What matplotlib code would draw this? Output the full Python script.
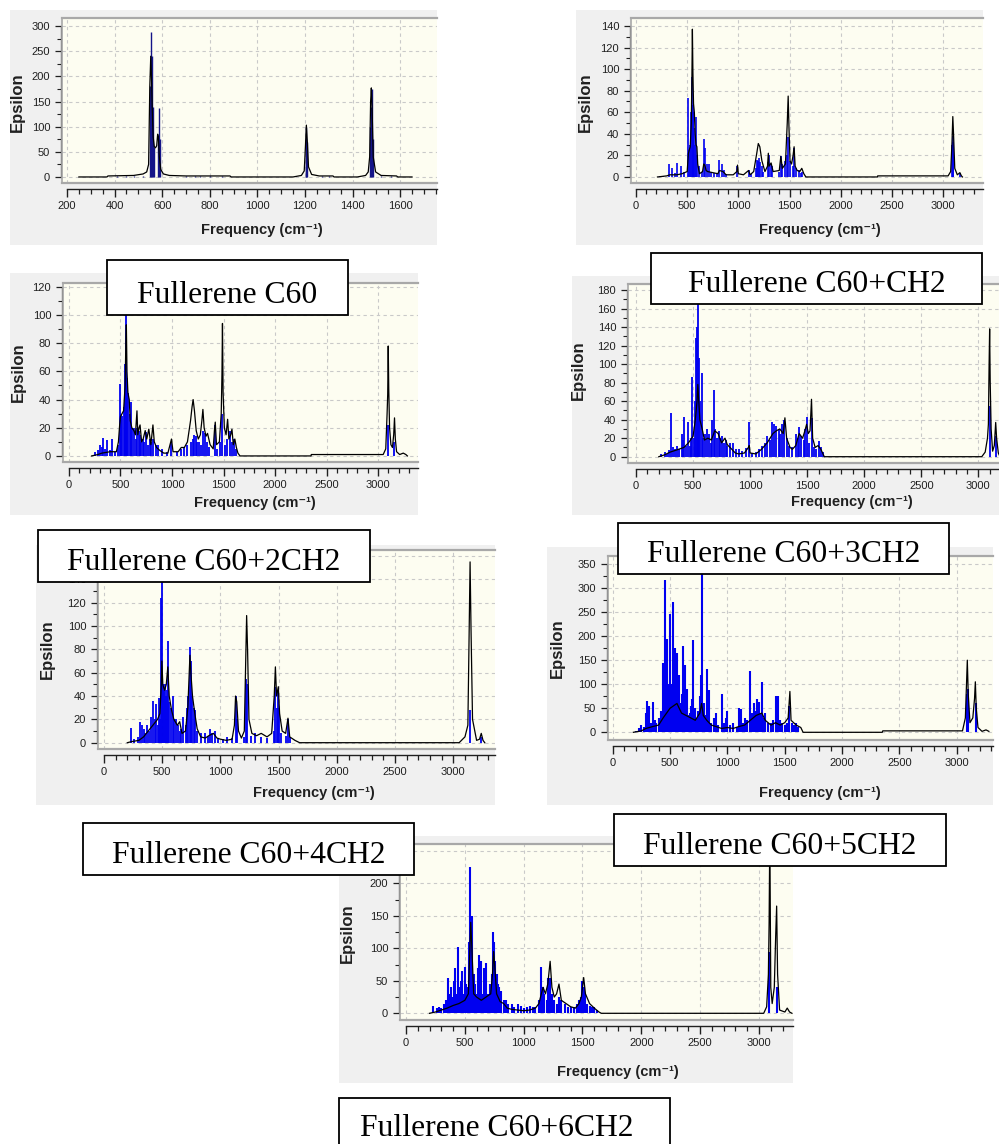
import matplotlib
matplotlib.use("Agg")
import matplotlib.pyplot as plt
from matplotlib.patches import Rectangle
import numpy as np

# ---------------- data ----------------
# Panel A (top-left)
A_STICKS = [(410, 1), (450, 1), (480, 1), (520, 2), (548, 180), (552, 288), (556, 240), (560, 140),
            (565, 60), (583, 80), (586, 138), (590, 75), (700, 1), (740, 1), (760, 1), (800, 1), (850, 1),
            (1203, 75), (1206, 100), (1209, 70), (1270, 1), (1300, 1), (1475, 100), (1478, 140),
            (1481, 175), (1485, 75), (1520, 1), (1560, 1)]
A_ENV = [(250, 0), (368, 0), (372, 2), (480, 3), (520, 6), (535, 10), (543, 25), (548, 180), (552, 240),
         (555, 200), (558, 140), (562, 80), (567, 60), (572, 58), (577, 62), (581, 85), (584, 80),
         (588, 40), (594, 15), (605, 6), (630, 3), (700, 2), (885, 2), (890, 0), (1150, 0), (1185, 3),
         (1197, 12), (1202, 60), (1206, 103), (1210, 70), (1215, 20), (1228, 5), (1260, 2), (1318, 2),
         (1322, 0), (1420, 0), (1455, 3), (1466, 10), (1472, 40), (1476, 150), (1479, 177), (1482, 140),
         (1487, 40), (1497, 10), (1520, 3), (1585, 2), (1590, 0), (1650, 0)]

# Panel B (top-right)
B_STICKS = [(230, 1), (260, 1), (320, 12), (350, 8), (380, 4), (405, 13), (440, 10), (470, 5), (510, 73),
            (522, 25), (532, 30), (540, 60), (548, 93), (553, 60), (560, 67), (568, 45), (578, 30),
            (590, 56), (598, 20), (615, 10), (640, 5), (660, 35), (672, 27), (690, 12), (710, 12),
            (730, 5), (760, 4), (790, 4), (815, 16), (840, 12), (860, 6), (880, 3), (990, 10), (1100, 6),
            (1120, 3), (1170, 8), (1185, 16), (1195, 15), (1205, 18), (1215, 14), (1228, 10), (1240, 5),
            (1290, 14), (1300, 20), (1318, 12), (1330, 10), (1400, 5), (1415, 19), (1425, 12), (1460, 15),
            (1475, 20), (1486, 37), (1500, 15), (1530, 10), (1545, 27), (1560, 8), (1590, 6), (1610, 4),
            (1625, 5), (3088, 30), (3095, 32), (3102, 38), (3170, 4)]
B_ENV = [(210, 0), (300, 1), (330, 2), (400, 2), (450, 3), (500, 5), (512, 22), (520, 25), (530, 28),
         (540, 50), (546, 90), (551, 137), (556, 97), (562, 68), (570, 60), (578, 40), (586, 30),
         (595, 28), (603, 12), (620, 3), (650, 5), (662, 12), (672, 11), (685, 6), (700, 5), (750, 4),
         (800, 3), (815, 6), (850, 5), (880, 2), (950, 2), (985, 5), (992, 11), (1000, 3), (1050, 2),
         (1100, 6), (1115, 2), (1150, 5), (1180, 22), (1195, 31), (1210, 28), (1230, 15), (1260, 5),
         (1285, 10), (1293, 22), (1300, 10), (1320, 13), (1340, 5), (1400, 6), (1415, 19), (1430, 8),
         (1460, 12), (1478, 50), (1487, 75), (1495, 45), (1505, 15), (1520, 12), (1535, 20), (1545, 28),
         (1555, 10), (1575, 6), (1600, 5), (1620, 8), (1640, 3), (1660, 0), (2360, 0), (2362, 1),
         (3050, 1), (3075, 5), (3088, 32), (3096, 56), (3103, 40), (3115, 8), (3140, 2), (3165, 4),
         (3180, 1), (3190, 0)]

# Panel C (second row, left)
C_STICKS = [(250, 3), (280, 4), (300, 8), (320, 6), (330, 13), (350, 5), (370, 11), (400, 4), (420, 12),
            (450, 3), (480, 8), (495, 51), (505, 30), (515, 28), (530, 35), (540, 40), (548, 65),
            (553, 100), (558, 65), (565, 55), (575, 45), (590, 30), (600, 38), (615, 20), (630, 20),
            (650, 12), (660, 20), (675, 18), (690, 15), (700, 10), (715, 12), (730, 10), (750, 17),
            (770, 8), (790, 12), (800, 10), (820, 12), (840, 8), (860, 8), (900, 5), (950, 3), (995, 10),
            (1050, 3), (1090, 5), (1120, 6), (1150, 8), (1180, 10), (1200, 12), (1215, 15), (1230, 14),
            (1245, 10), (1260, 10), (1280, 8), (1300, 18), (1320, 16), (1340, 10), (1360, 6), (1420, 22),
            (1440, 5), (1470, 10), (1490, 30), (1510, 8), (1530, 12), (1560, 18), (1580, 10), (1600, 12),
            (1620, 5), (3098, 22), (3158, 10)]
C_ENV = [(220, 0), (280, 1), (320, 2), (400, 3), (460, 3), (480, 10), (492, 22), (500, 28), (515, 30),
         (530, 32), (545, 50), (552, 80), (557, 93), (563, 60), (572, 45), (585, 40), (595, 25), (610, 20),
         (630, 18), (645, 15), (660, 32), (668, 15), (680, 20), (690, 22), (705, 10), (720, 12), (740, 18),
         (755, 12), (775, 19), (795, 8), (815, 22), (828, 10), (850, 6), (880, 4), (920, 2), (960, 2),
         (995, 12), (1010, 3), (1060, 3), (1090, 6), (1120, 6), (1150, 10), (1180, 25), (1195, 35),
         (1205, 40), (1218, 32), (1235, 18), (1255, 12), (1275, 15), (1290, 25), (1300, 33), (1312, 20),
         (1330, 14), (1345, 16), (1370, 8), (1400, 5), (1412, 18), (1420, 24), (1432, 8), (1460, 10),
         (1478, 30), (1485, 58), (1490, 94), (1496, 45), (1508, 20), (1525, 15), (1540, 26), (1552, 12),
         (1570, 15), (1582, 19), (1595, 8), (1610, 12), (1625, 6), (1640, 2), (1660, 0), (2350, 0),
         (2352, 1), (3050, 1), (3075, 5), (3088, 30), (3094, 44), (3099, 78), (3104, 48), (3112, 20),
         (3125, 8), (3140, 6), (3152, 15), (3160, 27), (3168, 12), (3180, 3), (3210, 1), (3245, 2),
         (3270, 1), (3285, 0)]

# Panel D (second row, right)
D_STICKS = [(220, 3), (250, 5), (270, 3), (290, 7), (310, 47), (325, 10), (340, 8), (360, 12), (380, 8),
            (400, 24), (415, 18), (425, 43), (440, 12), (455, 38), (470, 12), (485, 20), (495, 86),
            (505, 20), (515, 60), (525, 128), (532, 140), (540, 80), (545, 170), (550, 107), (560, 60),
            (575, 90), (590, 20), (605, 25), (620, 30), (640, 25), (655, 15), (670, 40), (680, 72),
            (695, 30), (710, 20), (725, 28), (740, 20), (755, 22), (770, 15), (785, 18), (800, 12),
            (820, 15), (850, 15), (875, 8), (900, 8), (930, 6), (960, 9), (990, 38), (1020, 4), (1050, 5),
            (1080, 8), (1100, 12), (1130, 15), (1150, 22), (1170, 18), (1190, 37), (1210, 35), (1230, 33),
            (1250, 30), (1265, 25), (1280, 35), (1300, 40), (1320, 20), (1340, 12), (1370, 10), (1400, 25),
            (1420, 20), (1430, 32), (1450, 22), (1470, 18), (1480, 30), (1500, 43), (1520, 15), (1540, 42),
            (1560, 10), (1580, 8), (1600, 17), (1620, 10), (1640, 5), (3098, 55), (3152, 22)]
D_ENV = [(200, 0), (250, 2), (300, 5), (350, 7), (420, 10), (460, 15), (500, 22), (520, 40), (535, 60),
         (542, 78), (550, 60), (560, 40), (580, 30), (600, 18), (630, 20), (660, 18), (690, 28), (720, 25),
         (750, 15), (780, 20), (800, 13), (840, 8), (870, 4), (900, 3), (950, 4), (985, 10), (992, 12),
         (1000, 4), (1050, 3), (1100, 8), (1150, 15), (1200, 25), (1230, 28), (1260, 30), (1290, 25),
         (1305, 42), (1320, 20), (1350, 10), (1370, 8), (1400, 12), (1430, 25), (1460, 20), (1480, 28),
         (1495, 35), (1510, 25), (1525, 28), (1538, 62), (1548, 20), (1570, 10), (1595, 12), (1620, 8),
         (1650, 0), (3030, 0), (3060, 5), (3080, 20), (3088, 35), (3094, 97), (3099, 138), (3104, 80),
         (3112, 30), (3125, 6), (3140, 12), (3152, 37), (3160, 20), (3175, 4), (3190, 0)]

# Panel E (third row, left)
E_STICKS = [(230, 13), (260, 3), (290, 5), (310, 18), (325, 15), (340, 12), (355, 8), (370, 15), (385, 10),
            (400, 22), (420, 36), (435, 20), (445, 33), (460, 15), (470, 38), (480, 20), (490, 124),
            (497, 160), (505, 50), (515, 45), (525, 50), (535, 40), (545, 45), (553, 87), (562, 35),
            (575, 30), (590, 40), (605, 20), (620, 20), (635, 15), (650, 10), (665, 12), (680, 22),
            (700, 15), (715, 30), (725, 40), (738, 82), (748, 70), (760, 40), (772, 30), (785, 28),
            (800, 10), (830, 8), (870, 8), (890, 6), (910, 12), (930, 8), (950, 10), (980, 4), (1020, 3),
            (1060, 5), (1100, 4), (1130, 40), (1142, 20), (1200, 5), (1222, 55), (1232, 50), (1260, 6),
            (1300, 8), (1350, 5), (1400, 4), (1460, 10), (1470, 48), (1482, 30), (1492, 45), (1502, 30),
            (1520, 8), (1560, 6), (1580, 20), (1600, 5), (3146, 28), (3240, 5)]
E_ENV = [(200, 0), (240, 1), (300, 2), (340, 5), (380, 10), (420, 15), (460, 20), (480, 25), (492, 50),
         (497, 70), (505, 50), (520, 45), (535, 50), (548, 65), (560, 40), (580, 28), (600, 20), (630, 15),
         (650, 18), (670, 8), (700, 10), (720, 30), (732, 60), (738, 75), (746, 60), (760, 40), (780, 25),
         (800, 12), (830, 5), (870, 4), (900, 6), (940, 8), (970, 4), (1000, 3), (1050, 2), (1100, 3),
         (1120, 15), (1130, 40), (1140, 35), (1155, 10), (1180, 4), (1205, 10), (1215, 60), (1225, 109),
         (1233, 80), (1245, 20), (1270, 8), (1310, 6), (1350, 8), (1400, 5), (1440, 8), (1462, 40),
         (1472, 65), (1482, 40), (1497, 48), (1508, 25), (1530, 10), (1560, 8), (1580, 21), (1595, 5),
         (1640, 2), (1680, 0), (3050, 0), (3100, 5), (3125, 15), (3136, 95), (3144, 155), (3152, 98),
         (3165, 20), (3200, 2), (3225, 3), (3240, 8), (3255, 2), (3270, 0)]

# Panel F (third row, right)
F_STICKS = [(200, 3), (230, 8), (250, 15), (270, 10), (290, 40), (300, 65), (310, 30), (320, 55), (335, 20),
            (350, 62), (365, 25), (380, 20), (400, 30), (420, 45), (430, 20), (440, 145), (450, 60),
            (460, 316), (470, 195), (480, 90), (490, 100), (500, 245), (510, 80), (520, 100), (530, 270),
            (540, 120), (545, 175), (555, 90), (560, 165), (570, 110), (580, 120), (590, 60), (600, 80),
            (610, 180), (620, 60), (630, 140), (640, 45), (650, 90), (660, 35), (670, 40), (680, 55),
            (690, 70), (700, 192), (710, 40), (720, 50), (730, 30), (740, 45), (750, 35), (760, 75),
            (770, 120), (780, 345), (790, 40), (800, 60), (810, 35), (820, 132), (830, 40), (840, 88),
            (860, 20), (880, 30), (900, 40), (920, 15), (950, 80), (970, 20), (990, 30), (1000, 45),
            (1020, 15), (1050, 20), (1080, 12), (1100, 50), (1120, 48), (1140, 20), (1150, 30), (1170, 25),
            (1200, 128), (1215, 40), (1230, 60), (1245, 45), (1260, 70), (1280, 62), (1290, 40), (1300, 105),
            (1315, 30), (1330, 40), (1350, 20), (1380, 20), (1400, 25), (1420, 75), (1440, 75), (1460, 25),
            (1480, 20), (1500, 15), (1520, 20), (1540, 55), (1560, 20), (1580, 15), (1600, 20), (1620, 10),
            (3088, 80), (3098, 90), (3165, 60)]
F_ENV = [(180, 0), (250, 3), (290, 8), (320, 10), (350, 12), (400, 15), (440, 30), (470, 40), (500, 50),
         (530, 55), (560, 60), (600, 40), (640, 35), (680, 30), (720, 25), (760, 40), (775, 60), (790, 35),
         (820, 25), (860, 15), (900, 12), (950, 8), (1000, 10), (1050, 8), (1100, 12), (1150, 15),
         (1200, 25), (1250, 35), (1300, 40), (1330, 25), (1380, 15), (1420, 20), (1460, 15), (1500, 20),
         (1530, 30), (1545, 85), (1555, 25), (1600, 15), (1640, 10), (1660, 0), (2350, 0), (2355, 3),
         (3050, 3), (3075, 30), (3085, 100), (3092, 150), (3100, 80), (3115, 20), (3140, 30), (3155, 70),
         (3162, 105), (3170, 50), (3185, 10), (3220, 2), (3255, 5), (3280, 2)]

# Panel G (bottom)
G_STICKS = [(230, 12), (260, 8), (280, 10), (300, 8), (320, 15), (340, 20), (360, 55), (370, 30), (380, 40),
            (400, 25), (410, 50), (420, 70), (430, 30), (440, 102), (450, 40), (460, 35), (470, 50),
            (480, 65), (490, 30), (500, 72), (510, 45), (520, 40), (535, 110), (545, 225), (550, 140),
            (555, 148), (565, 150), (575, 60), (585, 45), (600, 30), (610, 70), (620, 90), (630, 40),
            (640, 80), (650, 30), (660, 70), (670, 40), (680, 78), (690, 30), (700, 30), (710, 45),
            (720, 40), (730, 60), (742, 125), (750, 110), (760, 80), (770, 60), (780, 45), (790, 40),
            (810, 35), (830, 20), (850, 20), (870, 15), (900, 15), (920, 10), (950, 15), (980, 12),
            (1000, 8), (1030, 10), (1050, 12), (1080, 10), (1100, 10), (1130, 20), (1150, 72), (1165, 40),
            (1175, 30), (1200, 20), (1210, 55), (1225, 55), (1240, 30), (1260, 20), (1280, 15), (1300, 25),
            (1320, 20), (1350, 15), (1380, 10), (1400, 10), (1430, 10), (1450, 15), (1470, 20), (1490, 25),
            (1500, 50), (1510, 40), (1520, 30), (1540, 15), (1560, 12), (1580, 10), (1600, 10), (1620, 5),
            (3088, 95), (3150, 40)]
G_ENV = [(200, 0), (250, 2), (300, 5), (350, 8), (400, 12), (450, 15), (500, 20), (530, 30), (542, 95),
         (550, 140), (560, 100), (575, 30), (600, 25), (640, 20), (680, 25), (720, 30), (735, 60), (745, 95),
         (755, 70), (770, 30), (800, 18), (830, 15), (860, 8), (900, 6), (950, 5), (1000, 4), (1050, 5),
         (1100, 8), (1130, 15), (1150, 30), (1165, 40), (1185, 30), (1205, 45), (1225, 80), (1240, 40),
         (1260, 25), (1280, 30), (1300, 45), (1320, 20), (1360, 15), (1400, 10), (1440, 8), (1470, 15),
         (1490, 25), (1510, 55), (1525, 30), (1560, 15), (1600, 8), (1640, 2), (1660, 0), (3040, 0),
         (3065, 10), (3080, 60), (3086, 140), (3092, 280), (3100, 40), (3112, 15), (3130, 40), (3142, 120),
         (3150, 165), (3158, 60), (3175, 5), (3220, 2), (3240, 8), (3260, 2), (3280, 0)]

BOX_LABELS = ["Fullerene C60", "Fullerene C60+CH2", "Fullerene C60+2CH2", "Fullerene C60+3CH2",
              "Fullerene C60+4CH2", "Fullerene C60+5CH2", "Fullerene C60+6CH2"]
X_LABEL = "Frequency (cm\u207b\u00b9)"
Y_LABEL = "Epsilon"

# ---------------- layout (pixels) ----------------
W, H = 999, 1144
fig = plt.figure(figsize=(W / 100, H / 100), dpi=100, facecolor="white")


def fx(px):
    return px / W


def fy(py):
    return 1 - py / H


PANELS = [
    dict(bg=(10, 10, 437, 245), fr=(62, 18, 437, 183), xlim=(179, 1755), ylim=(-12, 316),
         xmaj=200, xmin_step=50, xstart=200, ystep=50, ytop=300, ylabtop=300, st=A_STICKS, env=A_ENV,
         xl=(262, 230), yl=(17, 102), scol="#141488", slw=1.0),
    dict(bg=(576, 10, 983, 245), fr=(631, 18, 983, 183), xlim=(-49, 3391), ylim=(-5.6, 147.4),
         xmaj=500, xmin_step=100, xstart=0, ystep=20, ytop=140, ylabtop=140, st=B_STICKS, env=B_ENV,
         xl=(820, 230), yl=(585, 102), scol="#0000F0", slw=1.2),
    dict(bg=(10, 273, 418, 515), fr=(63, 283, 418, 462), xlim=(-58, 3388), ylim=(-4.3, 122.7),
         xmaj=500, xmin_step=100, xstart=0, ystep=20, ytop=120, ylabtop=120, st=C_STICKS, env=C_ENV,
         xl=(255, 503), yl=(18, 372), scol="#0000F0", slw=1.3),
    dict(bg=(572, 276, 999, 515), fr=(628, 284, 999, 463), xlim=(-70, 3181), ylim=(-6.8, 186.5),
         xmaj=500, xmin_step=100, xstart=0, ystep=20, ytop=180, ylabtop=180, st=D_STICKS, env=D_ENV,
         xl=(852, 502), yl=(578, 370), scol="#0000F0", slw=1.3),
    dict(bg=(36, 545, 495, 805), fr=(98, 550, 495, 749), xlim=(-51.5, 3358), ylim=(-5.4, 165.2),
         xmaj=500, xmin_step=100, xstart=0, ystep=20, ytop=160, ylabtop=140, st=E_STICKS, env=E_ENV,
         xl=(314, 793), yl=(47, 649), scol="#0000F0", slw=1.3),
    dict(bg=(547, 547, 993, 805), fr=(608, 556, 993, 740), xlim=(-41, 3316), ylim=(-16, 366.6),
         xmaj=500, xmin_step=100, xstart=0, ystep=50, ytop=350, ylabtop=350, st=F_STICKS, env=F_ENV,
         xl=(820, 793), yl=(557, 648), scol="#0000F0", slw=1.5),
    dict(bg=(339, 836, 793, 1083), fr=(400, 844, 793, 1020), xlim=(-51, 3289), ylim=(-10.3, 260.5),
         xmaj=500, xmin_step=100, xstart=0, ystep=50, ytop=250, ylabtop=200, st=G_STICKS, env=G_ENV,
         xl=(618, 1072), yl=(347, 933), scol="#0000F0", slw=1.5),
]

BOXES = [(107, 260, 348, 315), (651, 253, 982, 304), (38, 530, 370, 582), (618, 523, 949, 574),
         (83, 823, 414, 875), (614, 814, 946, 866), (339, 1098, 670, 1160)]

SANS = ["Liberation Sans", "DejaVu Sans"]
FRAME = "#A8A8A8"
for p in PANELS:
    bx0, by0, bx1, by1 = p["bg"]
    fig.add_artist(Rectangle((fx(bx0), fy(by1)), (bx1 - bx0) / W, (by1 - by0) / H,
                             transform=fig.transFigure, facecolor="#F0F0F0", edgecolor="none", zorder=-10))
    x0, y0, x1, y1 = p["fr"]
    ax = fig.add_axes([fx(x0), fy(y1), (x1 - x0) / W, (y1 - y0) / H])
    ax.set_facecolor("#FDFDF1")
    ax.set_xlim(*p["xlim"])
    ax.set_ylim(*p["ylim"])

    xt = np.arange(p["xstart"], p["xlim"][1] + 1, p["xmaj"])
    xm = np.arange(p["xstart"], p["xlim"][1] + 1, p["xmin_step"])
    ax.set_xticks(xt)
    ax.set_xticks(xm, minor=True)
    yt = np.arange(0, p["ytop"] + 1, p["ystep"])
    ax.set_yticks(yt)
    ax.set_yticks(np.arange(0, p["ytop"] + 1, p["ystep"] / 2), minor=True)
    ax.set_xticklabels([str(int(v)) for v in xt])
    ax.set_yticklabels([str(int(v)) if v <= p["ylabtop"] else "" for v in yt])

    ax.grid(True, which="major", linestyle=(0, (3, 3)), color="#C9C9C9", linewidth=0.8)
    ax.set_axisbelow(True)

    ax.spines["right"].set_visible(False)
    ax.spines["top"].set_color(FRAME)
    ax.spines["top"].set_linewidth(1.6)
    ax.spines["left"].set_position(("outward", 1))
    ax.spines["left"].set_bounds(0, p["ytop"])
    ax.spines["left"].set_color("#303030")
    ax.spines["left"].set_linewidth(0.9)
    ax.spines["bottom"].set_position(("outward", 4))
    ax.spines["bottom"].set_bounds(p["xstart"], p["xlim"][1])
    ax.spines["bottom"].set_color("#202020")
    ax.spines["bottom"].set_linewidth(1.0)
    ax.plot([0, 1], [0, 0], transform=ax.transAxes, color=FRAME, lw=1.6, clip_on=False, zorder=5)
    ax.plot([0, 0], [0, 1], transform=ax.transAxes, color=FRAME, lw=1.2, clip_on=False, zorder=5)

    ax.tick_params(axis="x", which="major", direction="out", length=6, width=1.0, pad=3,
                   labelsize=8, colors="#202020")
    ax.tick_params(axis="x", which="minor", direction="out", length=3.5, width=0.9, colors="#202020")
    ax.tick_params(axis="y", which="major", direction="out", length=4.5, width=0.9, pad=3,
                   labelsize=8, colors="#202020")
    ax.tick_params(axis="y", which="minor", direction="out", length=3, width=0.8, colors="#202020")
    for lab in ax.get_xticklabels() + ax.get_yticklabels():
        lab.set_family(SANS)

    sf = [s[0] for s in p["st"]]
    se = [s[1] for s in p["st"]]
    ax.vlines(sf, 0, se, color=p["scol"], lw=p["slw"], zorder=3)
    ef = [e[0] for e in p["env"]]
    ee = [e[1] for e in p["env"]]
    ax.plot(ef, ee, color="black", lw=0.9, zorder=4)

    fig.text(fx(p["xl"][0]), fy(p["xl"][1]), X_LABEL, ha="center", va="center", fontsize=10.5,
             fontweight="bold", family=SANS, color="#202020")
    fig.text(fx(p["yl"][0]), fy(p["yl"][1]), Y_LABEL, ha="center", va="center", fontsize=12,
             fontweight="bold", family=SANS, rotation=90, color="#202020")

SERIF = ["Liberation Serif", "DejaVu Serif"]
for (bx0, by0, bx1, by1), lab in zip(BOXES, BOX_LABELS):
    fig.add_artist(Rectangle((fx(bx0), fy(by1)), (bx1 - bx0) / W, (by1 - by0) / H,
                             transform=fig.transFigure, facecolor="white", edgecolor="black",
                             lw=1.3, zorder=20))
    if by1 > H:
        fig.text(fx(bx0 + 21), fy(1136), lab, ha="left", va="baseline", fontsize=22.8,
                 family=SERIF, zorder=21)
    else:
        fig.text(fx((bx0 + bx1) / 2), fy(by1 - 12), lab, ha="center", va="baseline", fontsize=22.8,
                 family=SERIF, zorder=21)

fig.savefig("out.png", dpi=100, facecolor="white")
